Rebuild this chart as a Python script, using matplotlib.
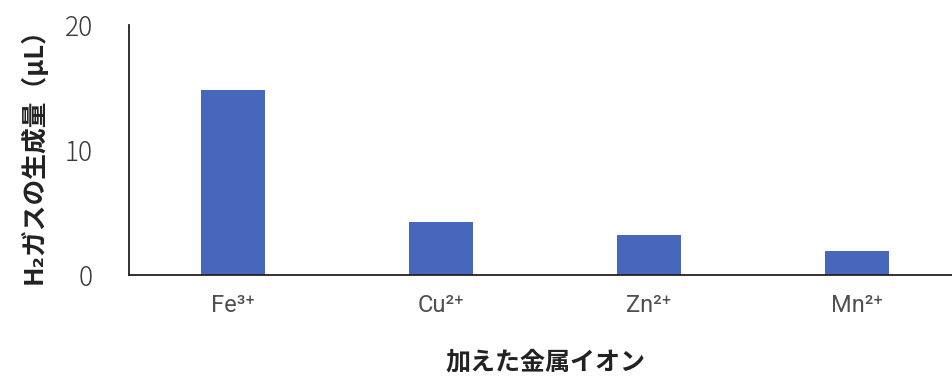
import matplotlib
matplotlib.use("Agg")
import matplotlib.pyplot as plt

plt.rcParams['font.family'] = ['Noto Sans CJK JP', 'DejaVu Sans']

ions = ["Fe³⁺", "Cu²⁺", "Zn²⁺", "Mn²⁺"]
h2_volume = [14.8, 4.2, 3.2, 1.9]
yticks = [0, 10, 20]

fig = plt.figure(figsize=(9.52, 3.83), dpi=100)
ax = fig.add_axes([0.1355, 0.282, 0.874, 0.653])

x = range(len(ions))
ax.bar(x, h2_volume, width=0.31, color="#4767bd")

ax.set_xlim(-0.5, 3.5)
ax.set_ylim(0, 20)
ax.set_yticks(yticks)
ax.set_xticks(list(x))
ax.set_xticklabels(ions, family=['Roboto', 'DejaVu Sans'], fontweight="normal")
ax.tick_params(axis="both", length=0, labelcolor="#3a3a3a")
ax.tick_params(axis="x", pad=14, labelsize=17, labelcolor="#505050")
ax.tick_params(axis="y", pad=26, labelsize=19)
for lbl in ax.get_yticklabels():
    lbl.set_fontweight("light")

for s in ["top", "right"]:
    ax.spines[s].set_visible(False)
ax.spines["left"].set_color("#222222")
ax.spines["bottom"].set_color("#222222")
ax.spines["left"].set_linewidth(1.3)
ax.spines["bottom"].set_linewidth(1.3)

ax.set_xlabel("加えた金属イオン", fontsize=18, fontweight="bold", labelpad=24, color="#222222")
ax.set_ylabel("H₂ガスの生成量（μL）", fontsize=18.5, fontweight="bold", labelpad=12, color="#222222")

fig.savefig("out.png", dpi=100)
